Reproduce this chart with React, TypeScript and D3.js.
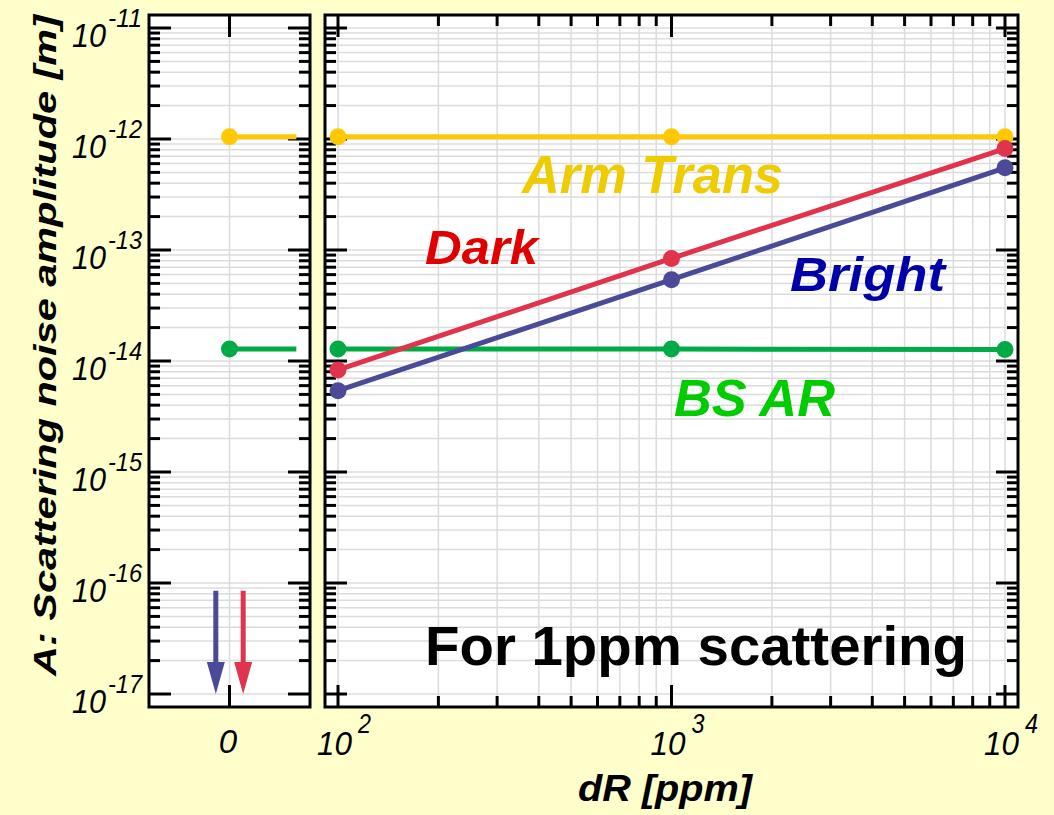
import React from "react";
import * as d3 from "d3";

// ---- data ----
const dR = [100, 1000, 10000];
const armTrans = [1.05e-12, 1.05e-12, 1.05e-12];
const bsAR = [1.28e-14, 1.28e-14, 1.27e-14];
const dark = [8.3e-15, 8.4e-14, 8.2e-13];
const bright = [5.4e-15, 5.4e-14, 5.5e-13];
const zeroArm = 1.05e-12;
const zeroBS = 1.28e-14;
const yDecades = [-11, -12, -13, -14, -15, -16, -17];
const xDecades = [2, 3, 4];

const W = 1054, H = 815;
const TOP = 15, BOT = 707;
const LX0 = 149, LX1 = 310;
const RX0 = 325, RX1 = 1018;

const y = d3.scaleLog().domain([Math.pow(10, -17.117), Math.pow(10, -10.883)]).range([BOT, TOP]);
const x = d3.scaleLog().domain([Math.pow(10, 2 - 0.039), Math.pow(10, 4 + 0.039)]).range([RX0, RX1]);
const xl = d3.scaleLinear().domain([-1, 1]).range([LX0, LX1]);

const C = {
  arm: "#FFC800", armText: "#EECC00",
  dark: "#E0334D", darkText: "#E00000",
  bright: "#4A4A98", brightText: "#0000AA",
  bs: "#00AA44", bsText: "#00CC00",
  grid: "#DCDCDC", bg: "#FFFFCC",
};

const yMajor = yDecades.map((e) => Math.pow(10, e));
const yMinor: number[] = [];
for (let e = -17; e < -11; e++) for (let k = 2; k <= 9; k++) yMinor.push(k * Math.pow(10, e));
const xMajor = xDecades.map((e) => Math.pow(10, e));
const xMinor: number[] = [];
for (let e = 2; e < 4; e++) for (let k = 2; k <= 9; k++) xMinor.push(k * Math.pow(10, e));

const FONT = "'Liberation Sans', Arial, Helvetica, sans-serif";
const MAJ = 22, MIN = 11;

function YTicks({ x0, x1 }: { x0: number; x1: number }) {
  return (
    <g stroke="#000" strokeWidth={3}>
      {yMajor.map((v, i) => (
        <g key={"M" + i}>
          <line x1={x0} x2={x0 + MAJ} y1={y(v)} y2={y(v)} />
          <line x1={x1} x2={x1 - MAJ} y1={y(v)} y2={y(v)} />
        </g>
      ))}
      {yMinor.map((v, i) => (
        <g key={"m" + i}>
          <line x1={x0} x2={x0 + MIN} y1={y(v)} y2={y(v)} />
          <line x1={x1} x2={x1 - MIN} y1={y(v)} y2={y(v)} />
        </g>
      ))}
    </g>
  );
}

export default function App() {
  const arrow = (cx: number, color: string) => {
    const top = y(Math.pow(10, -16.07));
    const tip = y(Math.pow(10, -17.0));
    const headH = 32, headW = 9;
    return (
      <g>
        <line x1={cx} x2={cx} y1={top} y2={tip - headH + 2} stroke={color} strokeWidth={5} />
        <path d={`M${cx - headW},${tip - headH} L${cx + headW},${tip - headH} L${cx},${tip} Z`} fill={color} />
      </g>
    );
  };

  const line = d3.line<number>().x((_, i) => x(dR[i])).y((d) => y(d));

  const series = [
    { vals: armTrans, color: C.arm },
    { vals: bsAR, color: C.bs },
    { vals: dark, color: C.dark },
    { vals: bright, color: C.bright },
  ];

  const SG = "spacingAndGlyphs";

  return (
    <svg width={W} height={H} style={{ position: "absolute", left: 0, top: 0, background: C.bg }} fontFamily={FONT}>
      <rect x={0} y={0} width={W} height={H} fill={C.bg} />
      <rect x={LX0} y={TOP} width={LX1 - LX0} height={BOT - TOP} fill="#fff" />
      <rect x={RX0} y={TOP} width={RX1 - RX0} height={BOT - TOP} fill="#fff" />

      {/* grid left */}
      <g stroke={C.grid} strokeWidth={1.5}>
        {[...yMajor, ...yMinor].map((v, i) => (
          <line key={"gl" + i} x1={LX0} x2={LX1} y1={y(v)} y2={y(v)} />
        ))}
        <line x1={xl(0)} x2={xl(0)} y1={TOP} y2={BOT} />
      </g>
      {/* grid right */}
      <g stroke={C.grid} strokeWidth={1.5}>
        {[...yMajor, ...yMinor].map((v, i) => (
          <line key={"gr" + i} x1={RX0} x2={RX1} y1={y(v)} y2={y(v)} />
        ))}
        {[...xMajor, ...xMinor].map((v, i) => (
          <line key={"gx" + i} x1={x(v)} x2={x(v)} y1={TOP} y2={BOT} />
        ))}
      </g>

      {/* ticks left panel */}
      <YTicks x0={LX0} x1={LX1} />
      <g stroke="#000" strokeWidth={3}>
        <line x1={xl(0)} x2={xl(0)} y1={TOP} y2={TOP + MAJ} />
        <line x1={xl(0)} x2={xl(0)} y1={BOT} y2={BOT - MAJ} />
      </g>
      {/* ticks right panel */}
      <YTicks x0={RX0} x1={RX1} />
      <g stroke="#000" strokeWidth={3}>
        {xMajor.map((v, i) => (
          <g key={"xM" + i}>
            <line x1={x(v)} x2={x(v)} y1={TOP} y2={TOP + MAJ} />
            <line x1={x(v)} x2={x(v)} y1={BOT} y2={BOT - MAJ} />
          </g>
        ))}
        {xMinor.map((v, i) => (
          <g key={"xm" + i}>
            <line x1={x(v)} x2={x(v)} y1={TOP} y2={TOP + MIN} />
            <line x1={x(v)} x2={x(v)} y1={BOT} y2={BOT - MIN} />
          </g>
        ))}
      </g>

      {/* left panel data */}
      <line x1={xl(0)} x2={xl(0.83)} y1={y(zeroArm)} y2={y(zeroArm)} stroke={C.arm} strokeWidth={5} />
      <circle cx={xl(0)} cy={y(zeroArm)} r={8.5} fill={C.arm} />
      <line x1={xl(0)} x2={xl(0.83)} y1={y(zeroBS)} y2={y(zeroBS)} stroke={C.bs} strokeWidth={5} />
      <circle cx={xl(0)} cy={y(zeroBS)} r={8.5} fill={C.bs} />
      {arrow(xl(-0.17), C.bright)}
      {arrow(xl(0.17), C.dark)}

      {/* right panel data */}
      {series.map((s, si) => (
        <g key={"s" + si}>
          <path d={line(s.vals) || ""} fill="none" stroke={s.color} strokeWidth={5} />
          {s.vals.map((v, i) => (
            <circle key={i} cx={x(dR[i])} cy={y(v)} r={8.5} fill={s.color} />
          ))}
        </g>
      ))}

      {/* frames */}
      <rect x={LX0} y={TOP} width={LX1 - LX0} height={BOT - TOP} fill="none" stroke="#000" strokeWidth={3} />
      <rect x={RX0} y={TOP} width={RX1 - RX0} height={BOT - TOP} fill="none" stroke="#000" strokeWidth={3} />

      {/* y tick labels */}
      {yDecades.map((e, i) => {
        const yy = y(Math.pow(10, e));
        return (
          <g key={"yl" + i} fontStyle="italic" fill="#000">
            <text x={72} y={yy + 19} fontSize={34} textLength={34} lengthAdjust={SG}>10</text>
            <text x={108} y={yy - 1} fontSize={25} textLength={34} lengthAdjust={SG}>{"-" + (-e)}</text>
          </g>
        );
      })}
      {/* x tick labels */}
      <text x={228} y={753} fontSize={33} fontStyle="italic" textAnchor="middle">0</text>
      {xDecades.map((e, i) => {
        const xx = x(Math.pow(10, e));
        return (
          <g key={"xl" + i} fontStyle="italic" fill="#000">
            <text x={xx - 21} y={755} fontSize={34} textLength={35} lengthAdjust={SG}>10</text>
            <text x={xx + 20} y={733} fontSize={27} textLength={13} lengthAdjust={SG}>{e}</text>
          </g>
        );
      })}

      {/* axis titles */}
      <text x={578} y={801} fontSize={36} fontWeight="bold" fontStyle="italic" textLength={174} lengthAdjust={SG}>dR [ppm]</text>
      <text transform="translate(56,676) rotate(-90)" fontSize={32} fontWeight="bold" fontStyle="italic" textLength={661} lengthAdjust={SG}>
        A: Scattering noise amplitude [m]
      </text>

      {/* annotations */}
      <g fontWeight="bold" fontStyle="italic">
        <text x={522} y={193} fontSize={53} fill={C.armText} textLength={261} lengthAdjust={SG}>Arm Trans</text>
        <text x={425} y={264} fontSize={48} fill={C.darkText} textLength={113} lengthAdjust={SG}>Dark</text>
        <text x={790} y={291} fontSize={49} fill={C.brightText} textLength={155} lengthAdjust={SG}>Bright</text>
        <text x={674} y={416} fontSize={51} fill={C.bsText} textLength={161} lengthAdjust={SG}>BS AR</text>
      </g>
      <text x={425} y={665} fontSize={56} fontWeight="bold" fill="#000" textLength={542} lengthAdjust={SG}>For 1ppm scattering</text>
    </svg>
  );
}
